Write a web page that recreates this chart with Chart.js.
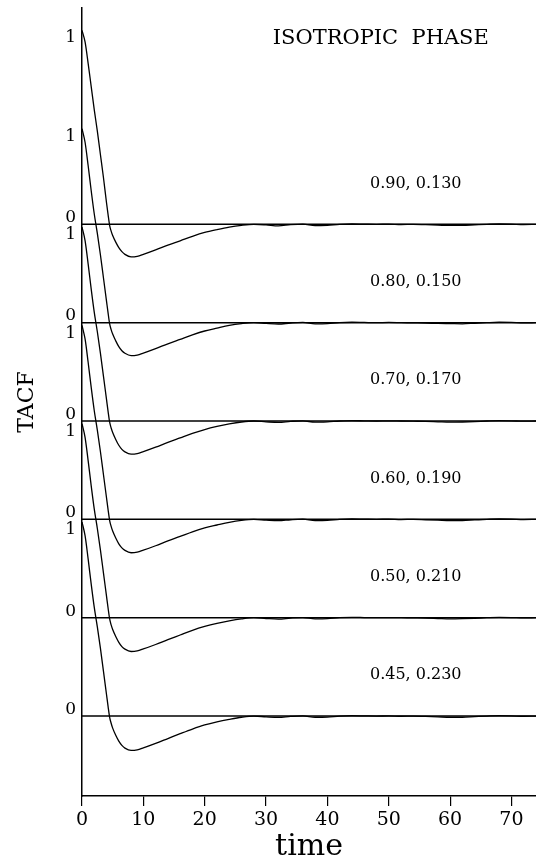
<!DOCTYPE html>
<html>
<head>
<meta charset="utf-8">
<title>TACF - isotropic phase</title>
<script src="https://cdn.jsdelivr.net/npm/chart.js@4.4.1/dist/chart.umd.min.js"></script>
<style>
    html, body { margin: 0; padding: 0; background: #fff; }
    #wrap { position: relative; width: 536px; height: 863px; }
</style>
</head>
<body>
<div id="wrap"><canvas id="tacf"></canvas></div>
<script>
// time points shared by all six curves
const times = [0, 0.5, 1, 1.5, 2, 2.5, 3, 3.5, 4,
    4.25, 4.5, 4.75, 5, 5.5, 6, 6.5, 7,
    8, 9, 10,
    12, 14, 16, 18, 20, 22, 24, 26, 28, 30,
    32, 34, 36, 38, 40, 42, 44, 46, 48, 50, 52, 54, 56, 58, 60, 62, 64, 66, 68, 70, 72, 74];

// TACF, one list per state point (top to bottom)
const tacf090 = [1.00, 0.94, 0.83, 0.71, 0.59, 0.48, 0.36, 0.24, 0.11,
    0.05, -0.005, -0.035, -0.058, -0.092, -0.120, -0.141, -0.155,
    -0.168, -0.165, -0.155,
    -0.132, -0.107, -0.085, -0.062, -0.042, -0.027, -0.014, -0.005, 0.000, -0.003,
    -0.008, -0.002, 0.001, -0.007, -0.005, 0.000, 0.002, 0.001, 0.000, 0.001, -0.001, 0.000, -0.002, -0.004, -0.006, -0.006, -0.003, 0.000, 0.002, 0.001, -0.001, 0.000];
const tacf080 = [1.00, 0.93, 0.81, 0.68, 0.56, 0.46, 0.35, 0.23, 0.11,
    0.05, -0.005, -0.036, -0.059, -0.094, -0.124, -0.145, -0.158,
    -0.170, -0.167, -0.157,
    -0.134, -0.109, -0.086, -0.063, -0.043, -0.028, -0.014, -0.005, 0.000, -0.004,
    -0.007, -0.002, 0.001, -0.006, -0.005, 0.000, 0.002, 0.001, 0.000, 0.001, 0.000, -0.001, -0.002, -0.004, -0.005, -0.006, -0.003, 0.000, 0.002, 0.001, -0.001, 0.000];
const tacf070 = [1.00, 0.93, 0.81, 0.68, 0.56, 0.46, 0.35, 0.23, 0.11,
    0.05, -0.005, -0.036, -0.059, -0.095, -0.125, -0.146, -0.159,
    -0.171, -0.168, -0.158,
    -0.135, -0.110, -0.087, -0.064, -0.044, -0.028, -0.015, -0.005, 0.000, -0.004,
    -0.007, -0.002, 0.001, -0.006, -0.004, 0.000, 0.002, 0.001, 0.000, 0.001, 0.000, -0.001, -0.002, -0.004, -0.006, -0.005, -0.003, 0.000, 0.002, 0.001, -0.001, 0.000];
const tacf060 = [1.00, 0.93, 0.81, 0.68, 0.56, 0.46, 0.35, 0.23, 0.11,
    0.05, -0.005, -0.036, -0.060, -0.096, -0.126, -0.147, -0.160,
    -0.172, -0.169, -0.159,
    -0.136, -0.111, -0.088, -0.064, -0.044, -0.029, -0.015, -0.005, 0.000, -0.004,
    -0.007, -0.002, 0.001, -0.006, -0.005, 0.000, 0.002, 0.001, 0.000, 0.001, -0.001, 0.000, -0.002, -0.004, -0.006, -0.006, -0.003, 0.000, 0.002, 0.001, -0.001, 0.000];
const tacf050 = [1.00, 0.93, 0.81, 0.68, 0.56, 0.46, 0.35, 0.23, 0.11,
    0.05, -0.005, -0.037, -0.061, -0.097, -0.127, -0.149, -0.162,
    -0.174, -0.171, -0.161,
    -0.138, -0.113, -0.089, -0.065, -0.045, -0.029, -0.016, -0.006, 0.000, -0.004,
    -0.007, -0.002, 0.001, -0.006, -0.005, 0.000, 0.002, 0.001, 0.000, 0.001, 0.000, -0.001, -0.002, -0.004, -0.006, -0.005, -0.003, 0.000, 0.002, 0.001, -0.001, 0.000];
const tacf045 = [1.00, 0.93, 0.81, 0.68, 0.56, 0.46, 0.35, 0.23, 0.11,
    0.05, -0.005, -0.037, -0.062, -0.099, -0.129, -0.151, -0.165,
    -0.177, -0.174, -0.164,
    -0.141, -0.116, -0.091, -0.067, -0.046, -0.030, -0.017, -0.006, 0.000, -0.004,
    -0.007, -0.002, 0.001, -0.006, -0.005, 0.000, 0.002, 0.001, 0.000, 0.001, -0.001, 0.000, -0.002, -0.004, -0.006, -0.006, -0.003, 0.000, 0.002, 0.001, -0.001, 0.000];

const curves = [tacf090, tacf080, tacf070, tacf060, tacf050, tacf045];
const seriesLabels = ['0.90, 0.130', '0.80, 0.150', '0.70, 0.170', '0.60, 0.190', '0.50, 0.210', '0.45, 0.230'];
const xTicks = [0, 10, 20, 30, 40, 50, 60, 70];
const zeroLabel = '0';
const oneLabel = '1';
const panelTitle = 'ISOTROPIC  PHASE';

// each curve is shifted up by this much relative to the one below it
const STACK_STEP = 0.507;
const X_MAX = 74;
const offsetOf = k => (curves.length - 1 - k) * STACK_STEP;

const serif = 'DejaVu Serif';

// y tick labels sit a little off the exact 0 / 1 levels, as in the figure
const yTickText = new Map();
curves.forEach((c, k) => {
    yTickText.set(offsetOf(k) + 0.034, zeroLabel);
    yTickText.set(offsetOf(k) + 1 - 0.04, oneLabel);
});
const yTickValues = Array.from(yTickText.keys()).sort((a, b) => a - b);

const datasets = [];
curves.forEach((c, k) => {
    const off = offsetOf(k);
    datasets.push({
        label: 'zero ' + seriesLabels[k],
        data: [{ x: 0, y: off }, { x: X_MAX, y: off }],
        borderColor: '#000',
        borderWidth: 1.5,
        pointRadius: 0
    });
    datasets.push({
        label: seriesLabels[k],
        data: times.map((t, i) => ({ x: t, y: off + c[i] })),
        borderColor: '#000',
        borderWidth: 1.3,
        pointRadius: 0,
        cubicInterpolationMode: 'monotone'
    });
});

const panelText = {
    id: 'panelText',
    afterDatasetsDraw(chart) {
        const { ctx, scales: { x, y } } = chart;
        ctx.save();
        ctx.fillStyle = '#000';
        ctx.textAlign = 'center';
        ctx.textBaseline = 'middle';
        ctx.font = '21px "' + serif + '"';
        ctx.fillText(panelTitle, x.getPixelForValue(48.7), y.getPixelForValue(3.49));
        ctx.font = '16px "' + serif + '"';
        seriesLabels.forEach((lab, k) => {
            ctx.fillText(lab, x.getPixelForValue(54.4), y.getPixelForValue(offsetOf(k) + 0.21));
        });
        ctx.restore();
    }
};

new Chart(document.getElementById('tacf'), {
    type: 'line',
    data: { datasets: datasets },
    plugins: [panelText],
    options: {
        responsive: true,
        maintainAspectRatio: false,
        animation: false,
        layout: { padding: { top: 8, left: 0, right: 0, bottom: 0 } },
        plugins: {
            legend: { display: false },
            tooltip: { enabled: false }
        },
        scales: {
            x: {
                type: 'linear',
                min: 0,
                max: X_MAX,
                grid: { display: true, drawOnChartArea: false, drawTicks: true, tickLength: 10, color: '#000', lineWidth: 1.2 },
                border: { display: true, color: '#000', width: 1.5 },
                ticks: { padding: 3, color: '#000', maxRotation: 0, font: { family: serif, size: 19 } },
                title: {
                    display: true, text: 'time', color: '#000',
                    font: { family: serif, size: 30, lineHeight: 1 },
                    padding: { top: 0, bottom: 1 }
                },
                afterBuildTicks: s => { s.ticks = xTicks.map(v => ({ value: v })); },
                afterFit: s => { s.height = 67; s.paddingLeft = 0; s.paddingRight = 0; }
            },
            y: {
                type: 'linear',
                min: -0.412,
                max: 3.65,
                grid: { display: false, drawTicks: false, tickLength: 0 },
                border: { display: true, color: '#000', width: 1.5 },
                ticks: {
                    autoSkip: false,
                    padding: 6,
                    color: '#000',
                    font: { family: serif, size: 17 },
                    callback: v => yTickText.get(v)
                },
                title: {
                    display: true, text: 'TACF', color: '#000',
                    font: { family: serif, size: 22 },
                    padding: { top: 14, bottom: 0 }
                },
                afterBuildTicks: s => { s.ticks = yTickValues.map(v => ({ value: v })); },
                afterFit: s => { s.width = 82; s.paddingTop = 0; s.paddingBottom = 0; }
            }
        }
    }
});
</script>
</body>
</html>
